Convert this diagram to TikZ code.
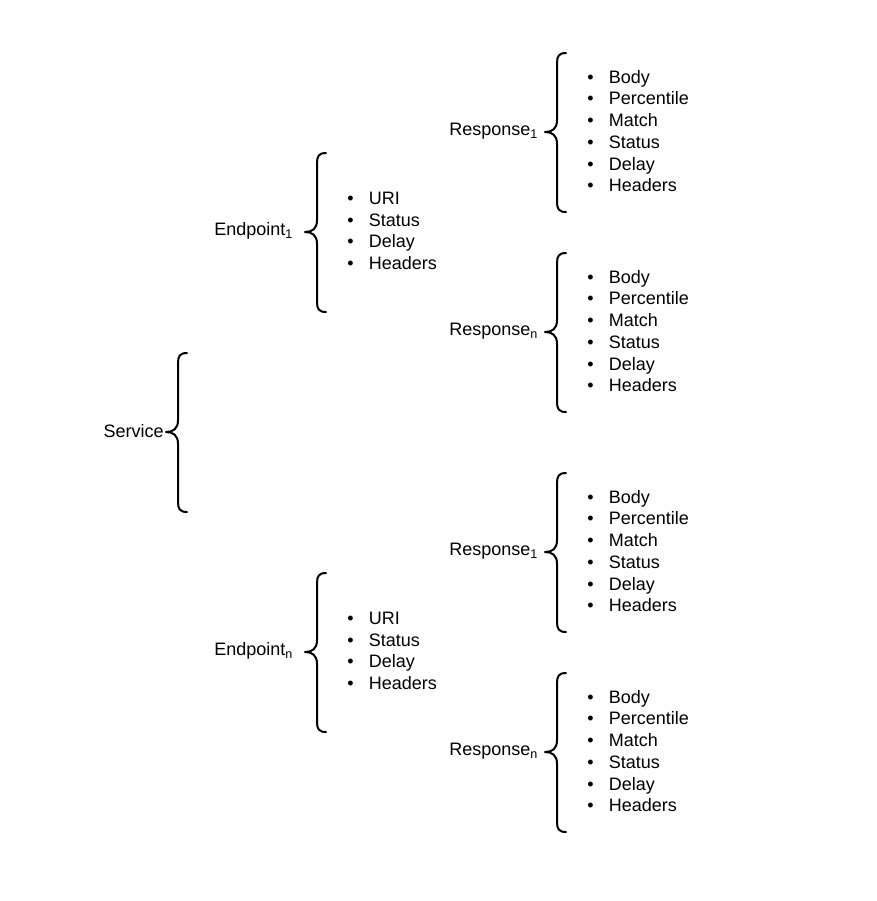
\documentclass[tikz,border=0pt]{standalone}
\usepackage{fontspec}
\setmainfont{Liberation Sans}
\begin{document}
\begin{tikzpicture}[x=0.75pt,y=-0.75pt,
  lbl/.style={inner sep=0pt,font=\fontsize{13.5pt}{16.5pt}\selectfont},
  itemlist/.style={inner sep=0pt,align=left,anchor=west,font=\fontsize{13.5pt}{16.3pt}\selectfont},
  braceline/.style={line width=1.5pt,line cap=round,line join=round},
  bracepic/.pic={\draw[braceline] (21,-79) .. controls (14,-79) and (12,-76) .. (12,-69) -- (12,-12)
     .. controls (12,-3) and (7,0) .. (0,0) .. controls (7,0) and (12,3) .. (12,12) -- (12,70)
     .. controls (12,77) and (14,80) .. (21,80);}]
\newcommand\bl{\makebox[16.2pt][l]{\textbullet}}
\useasboundingbox (0,0) rectangle (876,901);
% Service
\node[lbl,anchor=east] (svc) at (164,431) {Service};
\coordinate (bsvc) at (166,432);
\pic at (bsvc) {bracepic};
% Endpoint 1
\node[lbl,anchor=west] (ep1) at (214,231) {Endpoint\textsubscript{1}};
\coordinate (bep1) at (305,232);
\pic at (bep1) {bracepic};
\node[itemlist] (ep1list) at (347,231) {\bl URI\\\bl Status\\\bl Delay\\\bl Headers};
% Endpoint n
\node[lbl,anchor=west] (epn) at (214,651) {Endpoint\textsubscript{n}};
\coordinate (bepn) at (305,652);
\pic at (bepn) {bracepic};
\node[itemlist] (epnlist) at (347,651) {\bl URI\\\bl Status\\\bl Delay\\\bl Headers};
% Responses
\foreach \nm/\sub/\y in {r11/1/132, r1n/n/332, rn1/1/552, rnn/n/752}{
  \node[lbl,anchor=west] (\nm) at (449,\y-1) {Response\textsubscript{\sub}};
  \coordinate (b\nm) at (545,\y);
  \pic at (b\nm) {bracepic};
  \node[itemlist] (\nm list) at (587,\y-1) {\bl Body\\\bl Percentile\\\bl Match\\\bl Status\\\bl Delay\\\bl Headers};
}
\end{tikzpicture}
\end{document}
